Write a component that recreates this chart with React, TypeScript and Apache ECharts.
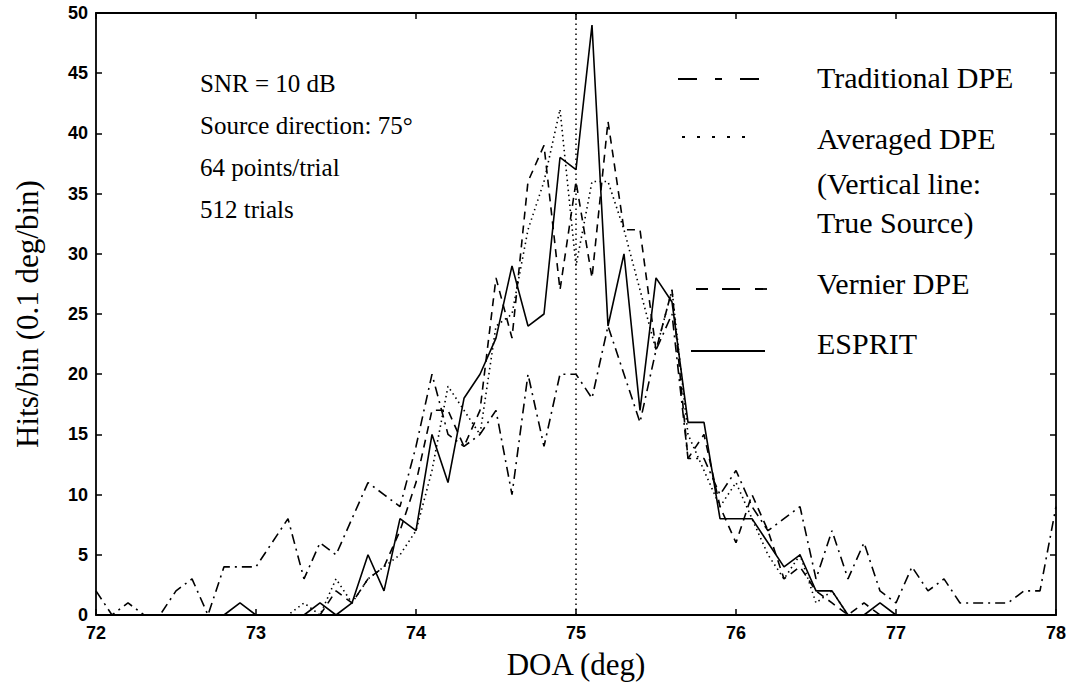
import React, { useEffect, useRef } from "react";
import * as echarts from "echarts";

const doa = [
  72.0, 72.1, 72.2, 72.3, 72.4, 72.5, 72.6, 72.7, 72.8, 72.9,
  73.0, 73.1, 73.2, 73.3, 73.4, 73.5, 73.6, 73.7, 73.8, 73.9,
  74.0, 74.1, 74.2, 74.3, 74.4, 74.5, 74.6, 74.7, 74.8, 74.9,
  75.0, 75.1, 75.2, 75.3, 75.4, 75.5, 75.6, 75.7, 75.8, 75.9,
  76.0, 76.1, 76.2, 76.3, 76.4, 76.5, 76.6, 76.7, 76.8, 76.9,
  77.0, 77.1, 77.2, 77.3, 77.4, 77.5, 77.6, 77.7, 77.8, 77.9,
  78.0,
];

const traditionalDPE = [
  2, 0, 1, 0, 0, 2, 3, 0, 4, 4,
  4, 6, 8, 3, 6, 5, 8, 11, 10, 9,
  14, 20, 15, 14, 15, 17, 10, 20, 14, 20,
  20, 18, 24, 20, 16, 22, 25, 13, 13, 10,
  12, 9, 7, 8, 9, 3, 7, 3, 6, 2,
  1, 4, 2, 3, 1, 1, 1, 1, 2, 2,
  9,
];

const averagedDPE = [
  0, 0, 0, 0, 0, 0, 0, 0, 0, 0,
  0, 0, 0, 1, 0, 3, 1, 3, 4, 5,
  7, 12, 19, 17, 15, 24, 25, 32, 36, 42,
  29, 36, 36, 32, 27, 22, 27, 15, 12, 9,
  11, 8, 5, 3, 5, 1, 2, 0, 0, 0,
  0, 0, 0, 0, 0, 0, 0, 0, 0, 0,
  0,
];

const vernierDPE = [
  0, 0, 0, 0, 0, 0, 0, 0, 0, 0,
  0, 0, 0, 0, 0, 2, 1, 3, 4, 7,
  11, 17, 17, 14, 17, 28, 23, 36, 39, 27,
  36, 28, 41, 32, 32, 22, 27, 13, 15, 9,
  6, 10, 7, 3, 4, 2, 1, 0, 1, 0,
  0, 0, 0, 0, 0, 0, 0, 0, 0, 0,
  0,
];

const esprit = [
  0, 0, 0, 0, 0, 0, 0, 0, 0, 1,
  0, 0, 0, 0, 1, 0, 1, 5, 2, 8,
  7, 15, 11, 18, 20, 23, 29, 24, 25, 38,
  37, 49, 24, 30, 17, 28, 26, 16, 16, 8,
  8, 8, 6, 4, 5, 2, 2, 0, 0, 1,
  0, 0, 0, 0, 0, 0, 0, 0, 0, 0,
  0,
];

const xTicks = [72, 73, 74, 75, 76, 77, 78];
const yTicks = [0, 5, 10, 15, 20, 25, 30, 35, 40, 45, 50];
const trueSource = 75;

const annotation = ["SNR = 10 dB", "Source direction: 75°", "64 points/trial", "512 trials"];
const legendNames = ["Traditional DPE", "Averaged DPE", "Vernier DPE", "ESPRIT"];

const SERIF = '"Liberation Serif", "Times New Roman", serif';
const SANS = '"Liberation Sans", Arial, sans-serif';
const INK = "#000";

function pairs(values: number[]) {
  return doa.map((x, i) => [x, values[i]]);
}

export default function App() {
  const ref = useRef<HTMLDivElement>(null);
  useEffect(() => {
    if (!ref.current) return;
    const chart = echarts.init(ref.current, null, { renderer: "svg" });
    const axisCommon = {
      axisLine: { show: true, onZero: false, lineStyle: { color: INK, width: 1.8 } },
      axisTick: { show: true, inside: true, length: 6, lineStyle: { color: INK, width: 1.5 } },
      splitLine: { show: false },
    };
    const lineSeries = (name: string, data: number[], type: any, z: number) => ({
      name,
      type: "line",
      data: pairs(data),
      showSymbol: false,
      symbol: "none",
      z,
      lineStyle: { color: INK, width: 1.6, type },
    });
    const legendDash: (number[] | null)[] = [[19, 18, 7, 18], [3, 12], [12, 14, 18, 15], null];
    const legendLineY = [79, 137, 289, 351];
    const legendTextY = [77, 138, 283, 343];
    const lineX = [[678, 759], [682, 757], [696, 767], [691, 765]];
    const graphics: any[] = [];
    legendNames.forEach((nm, k) => {
      graphics.push({
        type: "line",
        shape: { x1: lineX[k][0], y1: legendLineY[k], x2: lineX[k][1], y2: legendLineY[k] },
        style: { stroke: INK, lineWidth: 1.8, lineDash: legendDash[k] || undefined },
      });
      graphics.push({
        type: "text",
        x: 817,
        y: legendTextY[k],
        style: { text: nm, font: `30px ${SERIF}`, fill: INK, textVerticalAlign: "middle" },
      });
    });
    graphics.push({
      type: "text",
      x: 817,
      y: 183,
      style: { text: "(Vertical line:", font: `30px ${SERIF}`, fill: INK, textVerticalAlign: "middle" },
    });
    graphics.push({
      type: "text",
      x: 817,
      y: 222,
      style: { text: "True Source)", font: `30px ${SERIF}`, fill: INK, textVerticalAlign: "middle" },
    });
    annotation.forEach((t, k) => {
      graphics.push({
        type: "text",
        x: 200,
        y: 83 + k * 42,
        style: { text: t, font: `25px ${SERIF}`, fill: INK, textVerticalAlign: "middle" },
      });
    });

    chart.setOption({
      animation: false,
      backgroundColor: "#fff",
      grid: { left: 96, right: 17, top: 13, bottom: 75, containLabel: false },
      xAxis: [
        {
          ...axisCommon,
          type: "value",
          min: xTicks[0],
          max: xTicks[xTicks.length - 1],
          interval: 1,
          position: "bottom",
          axisLabel: { color: INK, fontFamily: SANS, fontSize: 18, fontWeight: "bold", margin: 9 },
          name: "DOA (deg)",
          nameLocation: "middle",
          nameGap: 34,
          nameTextStyle: { color: INK, fontFamily: SERIF, fontSize: 31 },
        },
        {
          ...axisCommon,
          type: "value",
          min: xTicks[0],
          max: xTicks[xTicks.length - 1],
          interval: 1,
          position: "top",
          axisLabel: { show: false },
        },
      ],
      yAxis: [
        {
          ...axisCommon,
          type: "value",
          min: yTicks[0],
          max: yTicks[yTicks.length - 1],
          interval: 5,
          position: "left",
          axisLabel: { color: INK, fontFamily: SANS, fontSize: 18, fontWeight: "bold", margin: 8 },
          name: "Hits/bin (0.1 deg/bin)",
          nameLocation: "middle",
          nameGap: 53,
          nameTextStyle: { color: INK, fontFamily: SERIF, fontSize: 31 },
        },
        {
          ...axisCommon,
          type: "value",
          min: yTicks[0],
          max: yTicks[yTicks.length - 1],
          interval: 5,
          position: "right",
          axisLabel: { show: false },
        },
      ],
      series: [
        lineSeries("Traditional DPE", traditionalDPE, [10, 5, 2, 5], 3),
        {
          ...lineSeries("Averaged DPE", averagedDPE, [1.5, 3.5], 4),
          markLine: {
            silent: true,
            symbol: "none",
            label: { show: false },
            lineStyle: { color: INK, width: 1.5, type: [1.5, 3.5] },
            data: [{ xAxis: trueSource }],
          },
        },
        lineSeries("Vernier DPE", vernierDPE, [8, 6], 5),
        lineSeries("ESPRIT", esprit, "solid", 6),
      ],
      graphic: graphics,
    });
    return () => chart.dispose();
  }, []);
  return (
    <div
      ref={ref}
      style={{ position: "fixed", left: 0, top: 0, width: 1073, height: 690, background: "#fff" }}
    />
  );
}
